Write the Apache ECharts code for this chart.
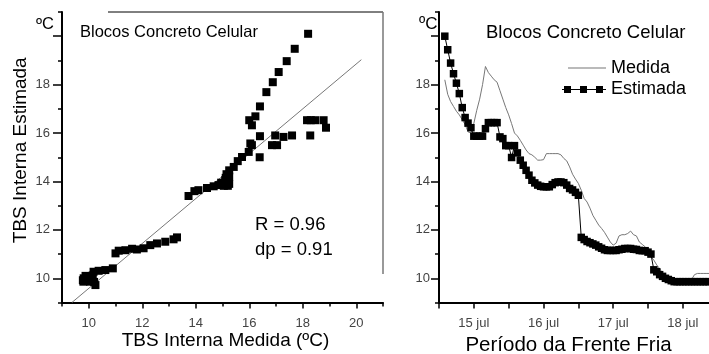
<!DOCTYPE html>
<html><head><meta charset="utf-8">
<script src="https://cdn.jsdelivr.net/npm/echarts@6/dist/echarts.min.js"></script>
<style>html,body{margin:0;padding:0;background:#fff}#c{width:709px;height:354px}</style>
</head><body><div id="c"></div>
<script>
// ---- data ----
const dispersao = [
 [18.2,20.1],[17.7,19.48],[17.4,18.97],[17.1,18.52],[16.88,18.1],[16.64,17.69],[16.4,17.1],[16.23,16.69],[16.0,16.53],[16.1,16.32],
 [16.4,15.87],[16.39,15.0],[16.97,15.9],[16.85,15.5],[17.04,15.5],[17.28,15.84],[17.6,15.9],[18.16,16.53],[18.3,16.53],[18.47,16.53],[18.78,16.53],[18.87,16.22],[18.28,15.9],
 [16.1,15.5],[16.04,15.57],[15.98,15.22],[15.73,15.01],[15.57,14.84],[15.42,14.6],[15.25,14.46],[15.25,14.2],[15.2,13.95],[15.1,14.05],[15.0,13.9],[15.2,13.82],[15.05,13.82],
 [15.15,14.3],[15.12,14.15],[15.25,13.9],[14.95,13.95],[15.22,14.05],
 [14.85,13.85],[14.67,13.8],[14.42,13.73],[14.1,13.64],[13.95,13.6],[13.73,13.4],
 [13.3,11.69],[13.17,11.61],[12.86,11.51],[12.55,11.44],[12.3,11.37],[12.05,11.24],[11.8,11.19],[11.62,11.22],[11.37,11.16],[11.12,11.14],[11.0,11.03],
 [10.9,10.41],[10.62,10.34],[10.37,10.31],[10.18,10.27],[9.99,9.93],[9.81,10.0],[9.88,10.1],[10.25,9.72],[9.8,9.86],[10.05,9.86],[10.1,10.0],[9.95,9.9],
 [9.85,9.95],[9.92,10.05],[10.0,10.02],[10.15,10.12],[10.2,9.85],[9.78,9.92]
];
const regressao = [[9.37,9.0],[20.19,19.03]];
const dias = ['14 jul','15 jul','16 jul','17 jul','18 jul'];
const medida = [null,null,
 18.2,17.6,17.3,17.1,16.9,16.75,16.55,16.35,16.05,16.0,
 16.4,16.94,17.4,18.0,18.75,18.5,18.35,18.2,18.1,17.75,17.4,17.05,
 16.75,16.39,16.0,15.88,15.7,15.5,15.3,15.15,15.1,15.0,14.88,14.88,
 14.9,15.15,15.15,15.15,15.15,15.15,15.1,14.95,14.85,14.6,14.3,14.1,
 13.92,13.64,13.3,13.15,12.9,12.6,12.4,12.2,12.06,11.9,11.7,11.5,
 11.37,11.45,11.75,11.8,11.8,11.85,11.95,11.8,11.75,11.5,11.4,11.3,
 11.1,10.9,10.75,10.55,10.4,10.2,10.0,9.95,9.9,9.86,9.86,9.86,
 9.86,9.86,9.86,9.95,10.15,10.2,10.2,10.2,10.2,10.2];
const estimada = [null,null,
 20.0,19.44,18.89,18.45,18.06,17.63,17.05,16.64,16.41,16.22,
 15.87,15.87,15.87,15.87,16.18,16.43,16.43,16.43,16.43,15.84,15.77,15.48,
 15.48,14.99,15.48,15.18,14.88,14.67,14.46,14.26,14.05,13.94,13.85,13.8,
 13.78,13.78,13.78,13.87,13.95,13.98,13.98,13.95,13.85,13.71,13.65,13.55,
 13.43,11.69,11.6,11.52,11.47,11.42,11.37,11.3,11.24,11.18,11.15,11.15,
 11.15,11.15,11.18,11.2,11.23,11.23,11.23,11.2,11.19,11.15,11.14,11.14,
 11.08,11.0,10.35,10.27,10.15,10.08,10.0,9.95,9.9,9.86,9.86,9.86,
 9.86,9.86,9.86,9.86,9.86,9.86,9.86,9.86,9.86,9.86];
const yTicksMaior = [10,12,14,16,18,20];
const yLabels = [10,12,14,16,18];
const xTicksMaior = [10,12,14,16,18,20];
const xLabels = [10,12,14,16,18,20];

// hourly categories from 14 jul 12h
const categorias = [];
for (let h = 0; h < medida.length; h++) {
  const t = h + 12;
  categorias.push(dias[Math.floor(t/24)] + ' ' + String(t%24).padStart(2,'0') + 'h');
}

const FF = 'Liberation Sans, Arial, Helvetica, sans-serif';
const axisLine = {show:true, lineStyle:{color:'#000', width:2}};
const lbl = {color:'#444', fontSize:13, fontFamily:FF};

function valAxis(extra){
  return Object.assign({type:'value', min:9, max:21, interval:1, splitLine:{show:false}}, extra);
}

const chart = echarts.init(document.getElementById('c'), null, {renderer:'canvas'});
chart.setOption({
  animation:false,
  textStyle:{fontFamily:FF},
  title:[
    {text:'Blocos Concreto Celular', left:80, top:24, padding:0,
     textStyle:{fontSize:16.5, fontWeight:'normal', color:'#000', fontFamily:FF}},
    {text:'Blocos Concreto Celular', left:486, top:23.5, padding:0,
     textStyle:{fontSize:18.5, fontWeight:'normal', color:'#000', fontFamily:FF}}
  ],
  legend:[
    {data:['Medida'], left:568, top:59, padding:0, itemWidth:38, itemHeight:1, icon:'rect',
     selectedMode:false, textStyle:{fontSize:18, lineHeight:18, color:'#000', fontFamily:FF}},
    {data:['Estimada'], left:562, top:80.5, padding:0, itemWidth:44, itemHeight:7,
     icon:'path://M0,3H44V4H0Z M2,0H9V7H2Z M18,0H25V7H18Z M34,0H41V7H34Z',
     selectedMode:false, textStyle:{fontSize:18, lineHeight:18, color:'#000', fontFamily:FF}}
  ],
  grid:[
    {left:62, top:12, width:321, height:290.5, containLabel:false, outerBoundsMode:'none'},
    {left:439, top:12, right:0, height:290.5, containLabel:false, outerBoundsMode:'none'}
  ],
  xAxis:[
    valAxis({gridIndex:0, position:'bottom', axisLine:axisLine,
      axisTick:{show:true, length:6, customValues:xTicksMaior, lineStyle:{color:'#000', width:1.5}},
      axisLabel:Object.assign({margin:14, customValues:xLabels}, lbl),
      name:'TBS Interna Medida (ºC)', nameLocation:'middle', nameGap:29, nameMoveOverlap:false,
      nameTextStyle:{fontSize:19, color:'#000', fontFamily:FF, padding:[0,0,0,6]}}),
    valAxis({gridIndex:0, position:'bottom', axisLine:{show:false},
      axisTick:{show:true, length:4, lineStyle:{color:'#000', width:1.5}},
      axisLabel:{show:false}}),
    {type:'category', gridIndex:1, position:'bottom', data:categorias, boundaryGap:false,
      axisLine:axisLine,
      axisTick:{show:true, length:6, interval:function(i){return i%12===0;}, lineStyle:{color:'#000', width:1.5}},
      axisLabel:Object.assign({margin:14, interval:function(i){return i%24===12;},
        formatter:function(v){return v.split(' ').slice(0,2).join(' ');}}, lbl),
      name:'Período da Frente Fria', nameLocation:'middle', nameGap:32, nameMoveOverlap:false,
      nameTextStyle:{fontSize:20.5, color:'#000', fontFamily:FF, padding:[0,11,0,0]},
      splitLine:{show:false}}
  ],
  yAxis:[
    valAxis({gridIndex:0, position:'left', axisLine:axisLine,
      axisTick:{show:true, length:9, customValues:yTicksMaior, lineStyle:{color:'#000', width:1.5}},
      axisLabel:Object.assign({margin:12, customValues:yLabels}, lbl),
      name:'TBS Interna Estimada', nameLocation:'middle', nameGap:32, nameMoveOverlap:false,
      nameTextStyle:{fontSize:19, color:'#000', fontFamily:FF, padding:[0,0,0,14]}}),
    valAxis({gridIndex:0, position:'left', axisLine:{show:false},
      axisTick:{show:true, length:4, lineStyle:{color:'#000', width:1.5}},
      axisLabel:{show:false}}),
    valAxis({gridIndex:1, position:'left', axisLine:axisLine,
      axisTick:{show:true, length:8, customValues:yTicksMaior, lineStyle:{color:'#000', width:1.5}},
      axisLabel:Object.assign({margin:9, customValues:yLabels}, lbl)}),
    valAxis({gridIndex:1, position:'left', axisLine:{show:false},
      axisTick:{show:true, length:4, lineStyle:{color:'#000', width:1.5}},
      axisLabel:{show:false}})
  ],
  graphic:[
    {type:'text', left:36, top:16, style:{text:'ºC', fontSize:16.5, fill:'#000', fontFamily:FF}},
    {type:'text', left:419, top:16, style:{text:'ºC', fontSize:17, fill:'#000', fontFamily:FF}},
    {type:'text', left:255, top:213, style:{text:'R = 0.96\ndp = 0.91', fontSize:18.5, lineHeight:24.5, fill:'#000', fontFamily:FF}},
    {type:'line', shape:{x1:108, y1:12, x2:383, y2:12}, style:{stroke:'#000', lineWidth:1}},
    {type:'line', shape:{x1:383, y1:12, x2:383, y2:274}, style:{stroke:'#777', lineWidth:1.5}}
  ],
  series:[
    {name:'Regressão', type:'line', xAxisIndex:0, yAxisIndex:0, data:regressao, symbol:'none',
      lineStyle:{color:'#777', width:1}, silent:true, z:2},
    {name:'Dispersão', type:'scatter', xAxisIndex:0, yAxisIndex:0, data:dispersao, symbol:'rect',
      symbolSize:8, itemStyle:{color:'#000', opacity:1}, z:3},
    {name:'Medida', type:'line', xAxisIndex:2, yAxisIndex:2, data:medida, symbol:'none',
      color:'#777', lineStyle:{color:'#777', width:1}, z:2},
    {name:'Estimada', type:'line', xAxisIndex:2, yAxisIndex:2, data:estimada, symbol:'rect',
      symbolSize:7.5, showSymbol:true, showAllSymbol:true, color:'#000',
      itemStyle:{color:'#000'}, lineStyle:{color:'#000', width:1}, z:3}
  ]
});
</script>
</body></html>
